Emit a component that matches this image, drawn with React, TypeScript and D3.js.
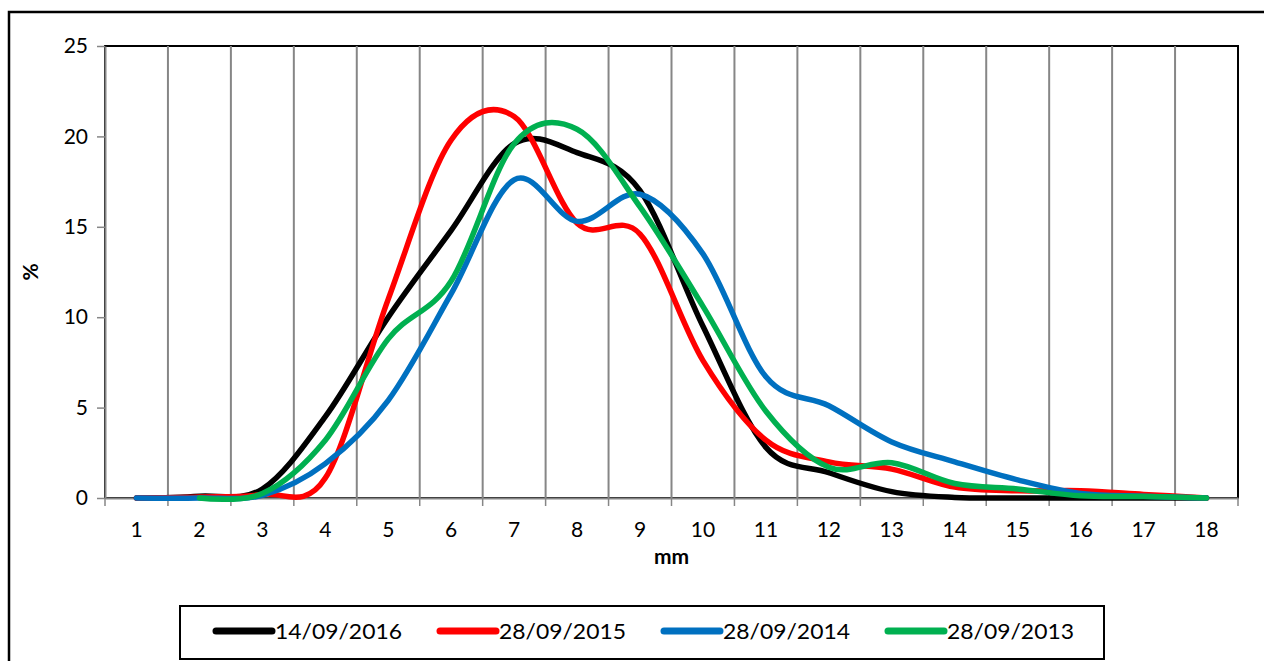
import React, { useRef, useEffect } from 'react';
import * as d3 from 'd3';

const categories = ['1', '2', '3', '4', '5', '6', '7', '8', '9', '10', '11', '12', '13', '14', '15', '16', '17', '18'];
const yTicks = [0, 5, 10, 15, 20, 25];

const s2016 = [0, 0.1, 0.5, 4.5, 10, 14.8, 19.6, 19.1, 17, 9.5, 2.8, 1.4, 0.35, 0.03, 0, 0, 0, 0];
const s2015 = [0, 0.05, 0.2, 1.1, 11, 19.8, 21.1, 15.2, 14.6, 7.6, 3.2, 2.0, 1.6, 0.6, 0.4, 0.4, 0.2, 0];
const s2014 = [0, 0, 0.15, 1.9, 5.4, 11.3, 17.6, 15.3, 16.8, 13.5, 6.7, 5.1, 3.1, 2.0, 1.0, 0.25, 0.1, 0];
// the 2013 series has no value for the first class
const s2013 = [null, 0, 0.25, 3.2, 8.8, 12, 19.6, 20.4, 16.1, 10.6, 4.8, 1.7, 1.95, 0.8, 0.5, 0.12, 0.08, 0];

const seriesNames = ['14/09/2016', '28/09/2015', '28/09/2014', '28/09/2013'];
const seriesColors = ['#000000', '#FF0000', '#0070C0', '#00B050'];
const seriesValues = [s2016, s2015, s2014, s2013];

const FONT = 'Lato, "Open Sans", sans-serif';

function SizeChart() {
  const svgRef = useRef(null);

  useEffect(() => {
    const svg = d3.select(svgRef.current);
    svg.selectAll('*').remove();

    const margin = { top: 46, right: 26, bottom: 163, left: 105 };
    const width = 1264;
    const height = 661;

    // outer chart frame (runs off the page on the right and bottom)
    svg.append('rect')
      .attr('x', 9).attr('y', 12)
      .attr('width', 1300).attr('height', 700)
      .attr('fill', 'white')
      .attr('stroke', 'black')
      .attr('stroke-width', 2.5);

    const x = d3.scaleBand()
      .domain(categories)
      .range([margin.left, width - margin.right]);

    const y = d3.scaleLinear()
      .domain([0, 25])
      .range([height - margin.bottom, margin.top]);

    const xc = d => x(d) + x.bandwidth() / 2;

    // plot area border
    svg.append('rect')
      .attr('x', margin.left).attr('y', margin.top)
      .attr('width', width - margin.right - margin.left)
      .attr('height', y(0) - margin.top)
      .attr('fill', 'none')
      .attr('stroke', 'black')
      .attr('stroke-width', 2);

    // vertical gridlines at category boundaries
    svg.append('g')
      .selectAll('line')
      .data(categories.slice(1))
      .enter().append('line')
      .attr('x1', d => x(d)).attr('x2', d => x(d))
      .attr('y1', margin.top).attr('y2', y(0))
      .attr('stroke', '#868686')
      .attr('stroke-width', 2);

    // y axis
    const yAxis = svg.append('g')
      .attr('transform', `translate(${margin.left},0)`)
      .call(d3.axisLeft(y).tickValues(yTicks).tickSize(8).tickPadding(9).tickSizeOuter(0));
    yAxis.select('.domain').attr('stroke', '#868686').attr('stroke-width', 2);
    yAxis.selectAll('.tick line').attr('stroke', '#868686').attr('stroke-width', 1.5);
    yAxis.selectAll('text')
      .attr('font-family', FONT).attr('font-size', 21).attr('fill', 'black');

    // x axis
    const xAxis = svg.append('g')
      .attr('transform', `translate(0,${y(0)})`)
      .call(d3.axisBottom(x).tickSize(0).tickPadding(24).tickSizeOuter(0));
    xAxis.select('.domain').attr('stroke', '#868686').attr('stroke-width', 2);
    xAxis.selectAll('text')
      .attr('font-family', FONT).attr('font-size', 21).attr('fill', 'black');
    xAxis.append('g')
      .selectAll('line')
      .data(categories.concat(['end']))
      .enter().append('line')
      .attr('x1', (d, i) => margin.left + i * x.step())
      .attr('x2', (d, i) => margin.left + i * x.step())
      .attr('y1', 0).attr('y2', 8)
      .attr('stroke', '#868686')
      .attr('stroke-width', 1.5);

    svg.append('text')
      .attr('x', (margin.left + width - margin.right) / 2)
      .attr('y', 564)
      .attr('text-anchor', 'middle')
      .attr('font-family', FONT)
      .attr('font-weight', 'bold')
      .attr('font-size', 21)
      .text('mm');

    svg.append('text')
      .attr('transform', `translate(38,${(margin.top + y(0)) / 2}) rotate(-90)`)
      .attr('text-anchor', 'middle')
      .attr('font-family', FONT)
      .attr('font-weight', 'bold')
      .attr('font-size', 21)
      .text('%');

    // smoothed lines
    const line = d3.line()
      .defined(d => d !== null)
      .x((d, i) => xc(categories[i]))
      .y(d => y(d))
      .curve(d3.curveCatmullRom.alpha(0));

    seriesValues.forEach((vals, i) => {
      svg.append('path')
        .datum(vals)
        .attr('fill', 'none')
        .attr('stroke', seriesColors[i])
        .attr('stroke-width', 5.5)
        .attr('stroke-linecap', 'round')
        .attr('stroke-linejoin', 'round')
        .attr('d', line);
    });

    // legend
    svg.append('rect')
      .attr('x', 180).attr('y', 606)
      .attr('width', 924).attr('height', 53)
      .attr('fill', 'white')
      .attr('stroke', 'black')
      .attr('stroke-width', 2);

    const legend = svg.append('g')
      .selectAll('g')
      .data(seriesNames)
      .enter().append('g')
      .attr('transform', (d, i) => `translate(${216 + i * 224},631)`);

    legend.append('line')
      .attr('x1', 0).attr('x2', 56)
      .attr('stroke', (d, i) => seriesColors[i])
      .attr('stroke-width', 7)
      .attr('stroke-linecap', 'round');

    legend.append('text')
      .attr('x', 59)
      .attr('dy', '0.35em')
      .attr('font-family', FONT)
      .attr('font-size', 22)
      .attr('textLength', 127)
      .attr('lengthAdjust', 'spacingAndGlyphs')
      .text(d => d);
  }, []);

  return (
    <svg
      ref={svgRef}
      width={1264}
      height={661}
      style={{ position: 'absolute', left: 0, top: 0, background: 'white' }}
    />
  );
}

export default function App() {
  return <SizeChart />;
}
